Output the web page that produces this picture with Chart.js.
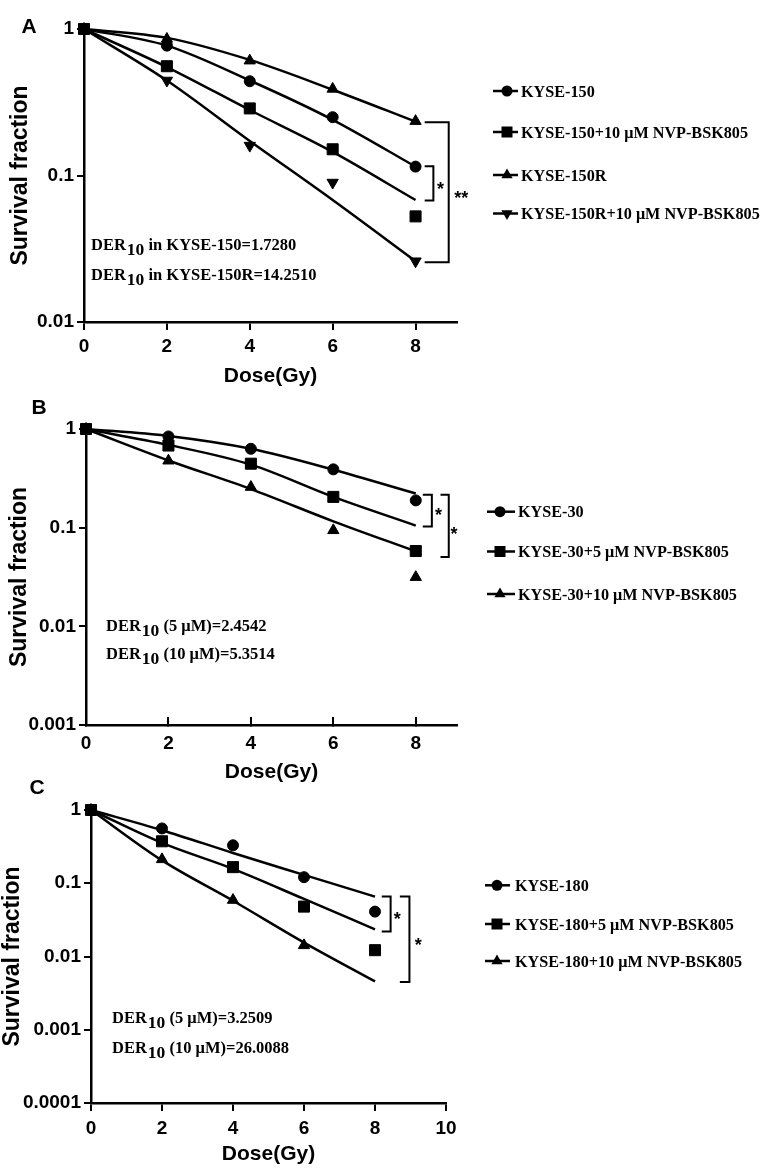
<!DOCTYPE html>
<html>
<head>
<meta charset="utf-8">
<script src="https://cdn.jsdelivr.net/npm/chart.js@4.4.1/dist/chart.umd.min.js"></script>
<style>
  body { margin: 0; background: #fff; }
  #wrap { position: relative; width: 767px; height: 1176px; overflow: hidden; }
  #wrap canvas { position: absolute; left: 0; }
</style>
</head>
<body>
<div id="wrap">
  <canvas id="chartA" width="767" height="395" style="top:0px"></canvas>
  <canvas id="chartB" width="767" height="410" style="top:380px"></canvas>
  <canvas id="chartC" width="767" height="411" style="top:765px"></canvas>
</div>
<script>
// doses (Gy)
const doses = [0, 2, 4, 6, 8];
const xTicksAB = [0, 2, 4, 6, 8];
const xTicksC = [0, 2, 4, 6, 8, 10];

// panel A - measured points and fitted curves
const kyse150 = [1, 0.77, 0.44, 0.25, 0.115];
const kyse150Nvp10 = [1, 0.557, 0.287, 0.151, 0.0526];
const kyse150R = [1, 0.855, 0.608, 0.39, 0.235];
const kyse150RNvp10 = [1, 0.445, 0.16, 0.0895, 0.026];
const kyse150Fit = [1, 0.77, 0.445, 0.24, 0.115];
const kyse150Nvp10Fit = [1, 0.55, 0.28, 0.145, 0.068];
const kyse150RFit = [1, 0.87, 0.615, 0.385, 0.233];
const kyse150RNvp10Fit = [1, 0.445, 0.172, 0.068, 0.026];
const legendA = ['KYSE-150', 'KYSE-150+10 \u03bcM NVP-BSK805', 'KYSE-150R', 'KYSE-150R+10 \u03bcM NVP-BSK805'];
const derA = [' in KYSE-150=1.7280', ' in KYSE-150R=14.2510'];
const yTicksA = [0.01, 0.1, 1];
const yLabelsA = ['0.01', '0.1', '1'];

// panel B
const kyse30 = [1, 0.84, 0.63, 0.39, 0.189];
const kyse30Nvp5 = [1, 0.68, 0.445, 0.205, 0.058];
const kyse30Nvp10 = [1, 0.477, 0.258, 0.094, 0.0315];
const kyse30Fit = [1, 0.85, 0.63, 0.387, 0.222];
const kyse30Nvp5Fit = [1, 0.69, 0.435, 0.205, 0.105];
const kyse30Nvp10Fit = [1, 0.48, 0.246, 0.116, 0.0575];
const legendB = ['KYSE-30', 'KYSE-30+5 \u03bcM NVP-BSK805', 'KYSE-30+10 \u03bcM NVP-BSK805'];
const derB = [' (5 \u03bcM)=2.4542', ' (10 \u03bcM)=5.3514'];
const yTicksB = [0.001, 0.01, 0.1, 1];
const yLabelsB = ['0.001', '0.01', '0.1', '1'];

// panel C
const kyse180 = [1, 0.56, 0.33, 0.121, 0.041];
const kyse180Nvp5 = [1, 0.374, 0.166, 0.048, 0.0122];
const kyse180Nvp10 = [1, 0.212, 0.059, 0.0142, null];
const kyse180Fit = [1, 0.53, 0.259, 0.13, 0.0656];
const kyse180Nvp5Fit = [1, 0.355, 0.157, 0.061, 0.0235];
const kyse180Nvp10Fit = [1, 0.205, 0.0577, 0.0155, 0.00457];
const legendC = ['KYSE-180', 'KYSE-180+5 \u03bcM NVP-BSK805', 'KYSE-180+10 \u03bcM NVP-BSK805'];
const derC = [' (5 \u03bcM)=3.2509', ' (10 \u03bcM)=26.0088'];
const yTicksC = [0.0001, 0.001, 0.01, 0.1, 1];
const yLabelsC = ['0.0001', '0.001', '0.01', '0.1', '1'];

const SANS = "'Liberation Sans', Arial, sans-serif";
const SERIF = "'Liberation Serif', 'Times New Roman', serif";

const markerStyles = {
  circle: { pointStyle: 'circle', radius: 5.5, rotation: 0 },
  rect: { pointStyle: 'rect', radius: 7.8, rotation: 0 },
  triangle: { pointStyle: 'triangle', radius: 6.5, rotation: 0 },
  triangleDown: { pointStyle: 'triangle', radius: 6.5, rotation: 180 },
};

const toXY = (values) =>
  doses.map((dose, i) => ({ x: dose, y: values[i] })).filter((p) => p.y !== null);

function drawMarker(ctx, marker, x, y) {
  ctx.beginPath();
  if (marker === 'circle') {
    ctx.arc(x, y, 5.5, 0, Math.PI * 2);
  } else if (marker === 'rect') {
    ctx.rect(x - 5.5, y - 5.5, 11, 11);
  } else {
    const r = 6.5;
    const s = marker === 'triangleDown' ? -1 : 1;
    ctx.moveTo(x, y - s * r);
    ctx.lineTo(x + r * 0.866, y + (s * r) / 2);
    ctx.lineTo(x - r * 0.866, y + (s * r) / 2);
  }
  ctx.closePath();
  ctx.fill();
}

// letters, legend, DER text and significance brackets
function makeExtras(panel) {
  return {
    id: 'extras' + panel.letter,
    afterDraw(chart) {
      const ctx = chart.ctx;
      const xs = chart.scales.x;
      const ys = chart.scales.y;
      ctx.save();
      ctx.fillStyle = '#000';
      ctx.strokeStyle = '#000';

      ctx.font = 'bold 21px ' + SANS;
      ctx.textAlign = 'center';
      ctx.textBaseline = 'middle';
      ctx.fillText(panel.letter, panel.letterPos[0], panel.letterPos[1]);

      // legend
      const lg = panel.legend;
      ctx.textAlign = 'left';
      ctx.textBaseline = 'alphabetic';
      ctx.font = 'bold 16.2px ' + SERIF;
      panel.series.forEach((s, i) => {
        const y = lg.ys[i];
        ctx.lineWidth = 2.5;
        ctx.beginPath();
        ctx.moveTo(lg.x0, y);
        ctx.lineTo(lg.x1, y);
        ctx.stroke();
        drawMarker(ctx, s.marker, lg.mx, y);
        ctx.fillText(s.label, lg.tx, y + 5.5);
      });

      // DER10 lines
      panel.der.texts.forEach((text, i) => {
        const base = panel.der.ys[i] + 5.5;
        let x = panel.der.x;
        ctx.font = 'bold 16.5px ' + SERIF;
        ctx.fillText('DER', x, base);
        x += ctx.measureText('DER').width + 1;
        ctx.font = 'bold 17.5px ' + SERIF;
        ctx.fillText('10', x, base + 5);
        x += ctx.measureText('10').width;
        ctx.font = 'bold 16.5px ' + SERIF;
        ctx.fillText(text, x, base);
      });

      // brackets
      ctx.lineWidth = 2;
      ctx.font = 'bold 18px ' + SANS;
      ctx.textAlign = 'center';
      panel.brackets.forEach((b) => {
        const x0 = xs.getPixelForValue(b.x0);
        const x1 = xs.getPixelForValue(b.x1);
        const y0 = ys.getPixelForValue(b.top);
        const y1 = ys.getPixelForValue(b.bottom);
        ctx.beginPath();
        ctx.moveTo(x0, y0);
        ctx.lineTo(x1, y0);
        ctx.lineTo(x1, y1);
        ctx.lineTo(x0, y1);
        ctx.stroke();
        ctx.fillText(b.mark, xs.getPixelForValue(b.markX), ys.getPixelForValue(b.markY) + 10);
      });
      ctx.restore();
    },
  };
}

function buildPanel(panel) {
  const datasets = [];
  panel.series.forEach((s) => {
    const m = markerStyles[s.marker];
    datasets.push({
      label: s.label + ' fit',
      data: toXY(s.fit),
      borderColor: '#000',
      borderWidth: 2.5,
      pointRadius: 0,
      cubicInterpolationMode: 'monotone',
      fill: false,
      clip: false,
      order: 5,
    });
    datasets.push({
      label: s.label,
      data: toXY(s.points),
      showLine: false,
      pointStyle: m.pointStyle,
      pointRadius: m.radius,
      pointRotation: m.rotation,
      pointBackgroundColor: '#000',
      pointBorderColor: '#000',
      pointBorderWidth: 1,
      clip: false,
      order: s.marker === 'rect' ? 0 : 2,
    });
  });

  const a = panel.area;
  const tickFont = { family: SANS, size: 19, weight: 'bold' };

  return new Chart(document.getElementById(panel.id), {
    type: 'line',
    data: { datasets },
    options: {
      responsive: false,
      animation: false,
      layout: {
        autoPadding: false,
        padding: { left: 0, top: a.top, right: 767 - a.right, bottom: 0 },
      },
      plugins: { legend: { display: false }, tooltip: { enabled: false } },
      scales: {
        x: {
          type: 'linear',
          min: 0,
          max: panel.xMax,
          afterBuildTicks: (scale) => {
            scale.ticks = panel.xTicks.map((v) => ({ value: v }));
          },
          afterFit: (scale) => {
            scale.height = panel.height - a.bottom;
          },
          ticks: { font: tickFont, color: '#000', padding: panel.xTickPad, maxRotation: 0 },
          grid: {
            drawOnChartArea: false,
            tickLength: panel.xTickLen,
            color: '#000',
            lineWidth: 2,
          },
          border: { color: '#000', width: 2.5 },
          title: {
            display: true,
            text: 'Dose(Gy)',
            color: '#000',
            font: { family: SANS, size: 21, weight: 'bold', lineHeight: 1 },
            padding: { top: 0, bottom: panel.xTitlePad },
          },
        },
        y: {
          type: 'logarithmic',
          min: panel.yTicks[0],
          max: 1,
          afterBuildTicks: (scale) => {
            scale.ticks = panel.yTicks.map((v) => ({ value: v }));
          },
          afterFit: (scale) => {
            scale.width = a.left;
          },
          ticks: {
            font: tickFont,
            color: '#000',
            padding: 3,
            autoSkip: false,
            callback: (value) => panel.yLabels[panel.yTicks.indexOf(value)],
          },
          grid: {
            drawOnChartArea: false,
            tickLength: 7,
            color: '#000',
            lineWidth: 2,
          },
          border: { color: '#000', width: 2.5 },
          title: {
            display: true,
            text: 'Survival fraction',
            color: '#000',
            font: { family: SANS, size: 23, weight: 'bold', lineHeight: 1 },
            padding: { top: panel.yTitlePad, bottom: 0 },
          },
        },
      },
    },
    plugins: [makeExtras(panel)],
  });
}

buildPanel({
  id: 'chartA',
  letter: 'A',
  letterPos: [29, 27],
  series: [
    { label: legendA[0], points: kyse150, fit: kyse150Fit, marker: 'circle' },
    { label: legendA[1], points: kyse150Nvp10, fit: kyse150Nvp10Fit, marker: 'rect' },
    { label: legendA[2], points: kyse150R, fit: kyse150RFit, marker: 'triangle' },
    { label: legendA[3], points: kyse150RNvp10, fit: kyse150RNvp10Fit, marker: 'triangleDown' },
  ],
  yTicks: yTicksA,
  yLabels: yLabelsA,
  xTicks: xTicksAB,
  xMax: 9,
  height: 395,
  area: { top: 29, left: 84, right: 457, bottom: 322 },
  xTickLen: 8,
  xTickPad: 5,
  xTitlePad: 8,
  yTitlePad: 9.5,
  legend: { x0: 493, x1: 518, mx: 507, tx: 521, ys: [91, 132, 175, 213.5] },
  der: { x: 91, ys: [244.5, 274.5], texts: derA },
  brackets: [
    { x0: 8.22, x1: 8.8, top: 0.231, bottom: 0.0256, mark: '**', markX: 9.1, markY: 0.0743 },
    { x0: 8.22, x1: 8.43, top: 0.1156, bottom: 0.0676, mark: '*', markX: 8.6, markY: 0.0855 },
  ],
});

buildPanel({
  id: 'chartB',
  letter: 'B',
  letterPos: [39, 28],
  series: [
    { label: legendB[0], points: kyse30, fit: kyse30Fit, marker: 'circle' },
    { label: legendB[1], points: kyse30Nvp5, fit: kyse30Nvp5Fit, marker: 'rect' },
    { label: legendB[2], points: kyse30Nvp10, fit: kyse30Nvp10Fit, marker: 'triangle' },
  ],
  yTicks: yTicksB,
  yLabels: yLabelsB,
  xTicks: xTicksAB,
  xMax: 9,
  height: 410,
  area: { top: 49, left: 86, right: 457, bottom: 345 },
  xTickLen: -8,
  xTickPad: 15,
  xTitlePad: 7,
  yTitlePad: 8.5,
  legend: { x0: 487, x1: 515, mx: 500, tx: 518, ys: [131.7, 171.5, 214] },
  der: { x: 106, ys: [245, 273.5], texts: derB },
  brackets: [
    { x0: 8.17, x1: 8.39, top: 0.216, bottom: 0.103, mark: '*', markX: 8.55, markY: 0.146 },
    { x0: 8.6, x1: 8.8, top: 0.216, bottom: 0.0503, mark: '*', markX: 8.93, markY: 0.0952 },
  ],
});

buildPanel({
  id: 'chartC',
  letter: 'C',
  letterPos: [37, 23],
  series: [
    { label: legendC[0], points: kyse180, fit: kyse180Fit, marker: 'circle' },
    { label: legendC[1], points: kyse180Nvp5, fit: kyse180Nvp5Fit, marker: 'rect' },
    { label: legendC[2], points: kyse180Nvp10, fit: kyse180Nvp10Fit, marker: 'triangle' },
  ],
  yTicks: yTicksC,
  yLabels: yLabelsC,
  xTicks: xTicksC,
  xMax: 10,
  height: 411,
  area: { top: 45, left: 91, right: 446, bottom: 338 },
  xTickLen: 8,
  xTickPad: 6,
  xTitlePad: 11,
  yTitlePad: 1.5,
  legend: { x0: 485, x1: 510, mx: 497, tx: 515, ys: [120.3, 159, 196] },
  der: { x: 112, ys: [252.5, 282.5], texts: derC },
  brackets: [
    { x0: 8.19, x1: 8.44, top: 0.066, bottom: 0.0219, mark: '*', markX: 8.63, markY: 0.037 },
    { x0: 8.7, x1: 8.97, top: 0.066, bottom: 0.00449, mark: '*', markX: 9.22, markY: 0.0163 },
  ],
});
</script>
</body>
</html>
